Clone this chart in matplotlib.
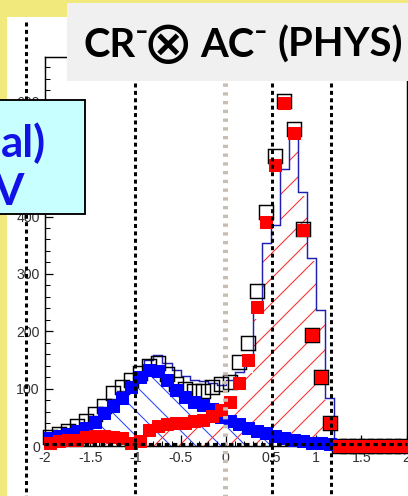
import numpy as np
import matplotlib.pyplot as plt
from matplotlib.lines import Line2D
from matplotlib.patches import Rectangle
from matplotlib.ticker import MultipleLocator

W, H, DPI = 408, 496, 75

# 0.1-wide bins from -2 to 2
edges = np.round(np.linspace(-2.0, 2.0, 41), 2)
centers = edges[:-1] + 0.05

# data (open black squares)
phys = [16, 21, 27, 35, 43, 55, 70, 92, 103, 115, 128, 139, 145, 125, 108, 100, 95, 96, 102, 108,
        112, 146, 179, 270, 407, 506, 602, 553, 379, 193, 120, 40, 0, 0, 0, 0, 0, 0, 0, 0]
# left component (filled blue squares)
comp_left = [14, 17, 21, 26, 32, 42, 57, 70, 84, 102, 120, 132, 130, 115, 98, 86, 77, 72, 64, 50,
             44, 38, 32, 27, 22, 18, 14, 11, 8, 6, 5, 3, 0, 0, 0, 0, 0, 0, 0, 0]
# right component (filled red squares)
comp_right = [6, 8, 10, 11, 15, 17, 18, 16, 14, 5, 8, 28, 35, 38, 40, 40, 43, 46, 53, 63,
              77, 110, 150, 243, 390, 489, 597, 546, 376, 193, 120, 40, 0, 0, 0, 0, 0, 0, 0, 0]
# MC templates
mc_left = [12, 15, 19, 24, 30, 40, 55, 68, 82, 100, 118, 128, 128, 112, 96, 84, 75, 68, 58, 46,
           40, 34, 28, 23, 19, 15, 12, 9, 7, 5, 4, 2, 0, 0, 0, 0, 0, 0, 0, 0]
mc_right = [5, 6, 7, 8, 10, 12, 13, 14, 13, 8, 10, 22, 30, 33, 36, 38, 40, 45, 52, 60,
            75, 95, 127, 222, 334, 371, 471, 528, 435, 322, 233, 81, 0, 0, 0, 0, 0, 0, 0, 0]
mc_total = [17, 21, 26, 32, 40, 52, 68, 82, 95, 108, 128, 150, 158, 145, 132, 122, 115, 113, 110, 106,
            115, 129, 155, 245, 353, 386, 483, 537, 442, 327, 237, 83, 0, 0, 0, 0, 0, 0, 0, 0]

x_ticks = [-2, -1.5, -1, -0.5, 0, 0.5, 1, 1.5, 2]
x_labels = ["-2", "-1.5", "-1", "-0.5", "0", "0.5", "1", "1.5", "2"]
y_ticks = [0, 100, 200, 300, 400, 500, 600]

title_parts = ["CR\u207b", "\u2297", "AC\u207b", "(PHYS)"]
box_lines = ["al)", "V"]

plt.rcParams['lines.scale_dashes'] = False
plt.rcParams['hatch.linewidth'] = 1.0


def fx(x):
    return x / W


def fy(y):
    return 1 - y / H


fig = plt.figure(figsize=(W / DPI, H / DPI), dpi=DPI, facecolor='#f2e97c')

# white slide panel
fig.add_artist(Rectangle((fx(7), 0), 1, fy(17), transform=fig.transFigure,
                         facecolor='white', edgecolor='none', zorder=-5))

ax = fig.add_axes([fx(45), 1 - 446 / H, (406.5 - 45) / W, (446 - 57) / H])
ax.set_facecolor('white')
ax.set_xlim(-2, 2)
ax.set_ylim(0, 678)

ax.stairs(mc_left, edges, baseline=0, fill=True, facecolor='none', edgecolor='#2848ff',
          hatch='\\', linewidth=0, zorder=1)
ax.stairs(mc_right, edges, baseline=0, fill=True, facecolor='none', edgecolor='#ff2a2a',
          hatch='/', linewidth=0, zorder=1)
ax.stairs(mc_total, edges, baseline=0, color='#2020b0', linewidth=1.4, zorder=2)

ax.plot(centers, phys, 's', ms=13.5, mfc='none', mec='black', mew=1.4, clip_on=False, zorder=3)
ax.plot(centers, comp_left, 's', ms=12, color='#0000ff', mec='#0000ff', clip_on=False, zorder=4)
ax.plot(centers, comp_right, 's', ms=12, color='#ff0000', mec='#ff0000', clip_on=False, zorder=5)

ax.set_xticks(x_ticks)
ax.set_xticklabels(x_labels)
ax.set_yticks(y_ticks)
ax.xaxis.set_minor_locator(MultipleLocator(0.1))
ax.yaxis.set_minor_locator(MultipleLocator(20))
ax.tick_params(axis='x', which='major', direction='in', length=11, width=1.2, pad=5,
               labelsize=13.5, labelcolor='#303030')
ax.tick_params(axis='x', which='minor', direction='in', length=5, width=1.0)
ax.tick_params(axis='y', which='major', direction='in', length=8, width=1.2, pad=5,
               labelsize=13.5, labelcolor='#303030')
ax.tick_params(axis='y', which='minor', direction='in', length=4.5, width=1.0)
for lab in ax.get_xticklabels() + ax.get_yticklabels():
    lab.set_family('Liberation Sans')
for s in ax.spines.values():
    s.set_linewidth(1.4)

# dotted guide lines over the plot
for xp in [26, 135, 272, 330.5]:
    y0 = 22 if xp < 40 else 83
    fig.add_artist(Line2D([fx(xp), fx(xp)], [fy(y0), 0], transform=fig.transFigure,
                          color='black', linewidth=2.9, linestyle=(0, (3.8, 3.3)), zorder=5))
fig.add_artist(Line2D([fx(225), fx(225)], [fy(83), 0], transform=fig.transFigure,
                      color='#c6beb4', linewidth=4.8, linestyle=(0, (3.2, 5.2)), zorder=5))
fig.add_artist(Line2D([fx(44), fx(407)], [fy(443.5), fy(443.5)], transform=fig.transFigure,
                      color='black', linewidth=3.0, linestyle=(0, (4.3, 3.4)), zorder=5))

# title box
fig.add_artist(Rectangle((fx(67), fy(81)), 1, (81 - 3) / H, transform=fig.transFigure,
                         facecolor='#f0f0f0', edgecolor='none', zorder=6))
fam = ['Lato', 'DejaVu Sans']
fig.text(fx(83), fy(57), title_parts[0], fontsize=38.4, fontweight='bold', family=fam,
         ha='left', va='baseline', zorder=7)
fig.text(fx(168), fy(46), title_parts[1], fontsize=58, family=['DejaVu Sans'],
         ha='center', va='center', zorder=7)
fig.text(fx(200), fy(57), title_parts[2], fontsize=38.4, fontweight='bold', family=fam,
         ha='left', va='baseline', zorder=7)
fig.text(fx(277), fy(57), title_parts[3], fontsize=38.4, fontweight='bold', family=fam,
         ha='left', va='baseline', zorder=7)

# side label box
fig.add_artist(Rectangle((fx(-5), fy(214)), fx(90), (214 - 100) / H, transform=fig.transFigure,
                         facecolor='#c8ffff', edgecolor='black', linewidth=1.8, zorder=6))
fig.text(fx(46), fy(157), box_lines[0], fontsize=42, fontweight='bold', family=fam,
         color='#1212e6', ha='right', va='baseline', zorder=7)
fig.text(fx(24), fy(205), box_lines[1], fontsize=42, fontweight='bold', family=fam,
         color='#1212e6', ha='right', va='baseline', zorder=7)

fig.savefig('out.png', dpi=DPI, facecolor=fig.get_facecolor())
